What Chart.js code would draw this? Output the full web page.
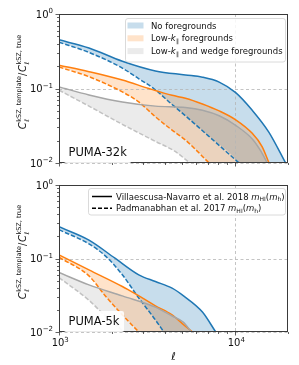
<!DOCTYPE html>
<html>
<head>
<meta charset="utf-8">
<script src="https://cdn.jsdelivr.net/npm/chart.js@4.4.1/dist/chart.umd.min.js"></script>
<style>
  html, body { margin: 0; padding: 0; background: #fff; }
  #wrap { position: relative; width: 299px; height: 365px; }
  canvas { position: absolute; left: 0; }
</style>
</head>
<body>
<div id="wrap">
  <canvas id="top" width="299" height="175" style="top:0"></canvas>
  <canvas id="bottom" width="299" height="190" style="top:175px"></canvas>
</div>
<script>
// axis ranges and tick labels
const X_MIN = 1000, X_MAX = 20000, Y_MIN = 0.01, Y_MAX = 1;
const xTickLabels = [[1000, '3'], [10000, '4']];
const yTickLabels = [[1, '0'], [0.1, '\u22121'], [0.01, '\u22122']];

// PUMA-32k, [ell, C_template / C_true]
const blueSolid32 = [[1000, 0.45], [1480, 0.35], [2290, 0.232], [3530, 0.172], [5230, 0.152], [6530, 0.142], [8130, 0.122], [10090, 0.088], [12530, 0.051], [15560, 0.026], [19400, 0.01]];
const blueDashed32 = [[1000, 0.418], [1480, 0.305], [2290, 0.188], [2840, 0.135], [3450, 0.1], [4390, 0.061], [5230, 0.043], [7000, 0.0235], [10550, 0.01]];
const orangeSolid32 = [[1000, 0.206], [1480, 0.168], [2290, 0.13], [3240, 0.1], [4390, 0.081], [5230, 0.074], [6530, 0.062], [8130, 0.05], [10090, 0.038], [12530, 0.025], [14250, 0.0166], [15600, 0.01]];
const orangeDashed32 = [[1000, 0.194], [1480, 0.144], [2290, 0.09], [2840, 0.066], [3530, 0.0417], [4390, 0.0276], [5230, 0.0203], [7130, 0.01]];
const graySolid32 = [[1000, 0.105], [1480, 0.082], [2290, 0.066], [3530, 0.058], [5230, 0.0555], [6530, 0.051], [8130, 0.043], [10090, 0.032], [12530, 0.021], [14000, 0.0145], [15250, 0.01]];
const grayDashed32 = [[1000, 0.095], [1480, 0.058], [2290, 0.033], [3530, 0.0195], [4520, 0.0145], [5550, 0.01]];

// PUMA-5k
const blueSolid5 = [[1000, 0.27], [1480, 0.178], [2080, 0.101], [2840, 0.06], [3530, 0.0486], [4390, 0.0395], [5100, 0.031], [6530, 0.0187], [7770, 0.01]];
const blueDashed5 = [[1000, 0.246], [1480, 0.158], [1845, 0.107], [2290, 0.06], [2840, 0.029], [3530, 0.0146], [3940, 0.01]];
const orangeSolid5 = [[1000, 0.112], [1480, 0.07], [2290, 0.0416], [2720, 0.033], [3530, 0.0227], [4390, 0.0171], [5100, 0.0126], [5740, 0.01]];
const orangeDashed5 = [[1000, 0.104], [1480, 0.058], [1845, 0.0304], [2290, 0.0171], [2840, 0.01]];
const graySolid5 = [[1000, 0.0645], [1480, 0.0438], [2290, 0.031], [3530, 0.0218], [4390, 0.0165], [5100, 0.0135], [5650, 0.01]];
const grayDashed5 = [[1000, 0.055], [1480, 0.027], [1845, 0.0162], [2345, 0.01]];

const FONT = '"DejaVu Sans", "Liberation Sans", sans-serif';
const font = (px, style) => (style ? style + ' ' : '') + px + 'px ' + FONT;

const BLUE = '#1f77b4', ORANGE = '#ff7f0e', GRAY_SOLID = '#a6a6a6', GRAY_DASH = '#c2c2c2';
const BLUE_FILL = 'rgba(31,119,180,0.25)';
const ORANGE_FILL = 'rgba(255,127,14,0.22)';
const GRAY_FILL = 'rgba(128,128,128,0.16)';
const AXIS = '#3a3a3a', TEXT = '#111';

const pts = arr => arr.map(([x, y]) => ({ x, y }));
// fill boundary: the dashed curve, then closed below the axis floor up to the end of the solid curve
const closeBelow = (dashed, solid) => pts(dashed).concat([{ x: solid[solid.length - 1][0], y: Y_MIN / 10 }]);

function panelDatasets(blueS, blueD, orangeS, orangeD, grayS, grayD) {
  const line = (data, color, dash, order, fill) => ({
    data: pts(data), borderColor: color, borderWidth: 1.5, borderDash: dash ? [4.5, 2] : [],
    pointRadius: 0, cubicInterpolationMode: 'monotone', order: order, fill: fill || false
  });
  const helper = (dashed, solid, order) => ({
    data: closeBelow(dashed, solid), borderColor: 'rgba(0,0,0,0)', borderWidth: 0,
    pointRadius: 0, cubicInterpolationMode: 'monotone', order: order, fill: false
  });
  const between = (target, c) => ({ target: target, above: c, below: c });
  return [
    line(blueS, BLUE, false, 3, between(1, BLUE_FILL)),
    helper(blueD, blueS, 3),
    line(orangeS, ORANGE, false, 2, between(3, ORANGE_FILL)),
    helper(orangeD, orangeS, 2),
    line(grayS, GRAY_SOLID, false, 1, between(5, GRAY_FILL)),
    helper(grayD, grayS, 1),
    line(blueD, BLUE, true, 3),
    line(orangeD, ORANGE, true, 2),
    line(grayD, GRAY_DASH, true, 1)
  ];
}

function logTicks(min, max) {
  const out = [];
  for (let e = Math.floor(Math.log10(min)); e <= Math.ceil(Math.log10(max)); e++) {
    for (let m = 1; m < 10; m++) {
      const v = m * Math.pow(10, e);
      if (v >= min * 0.999 && v <= max * 1.001) out.push({ v: v, major: m === 1 });
    }
  }
  return out;
}

// rich text: parts are {t, font, dy} or {stack: [...]}
function partWidth(ctx, p) {
  if (p.stack) return Math.max(...p.stack.map(q => partWidth(ctx, q)));
  ctx.font = p.font;
  return ctx.measureText(p.t).width + (p.gap || 0);
}
function richWidth(ctx, parts) {
  return parts.reduce((w, p) => w + partWidth(ctx, p), 0);
}
function drawRich(ctx, parts, x, y) {
  for (const p of parts) {
    if (p.stack) p.stack.forEach(q => drawRich(ctx, [q], x, y));
    else { ctx.font = p.font; ctx.fillText(p.t, x, y + (p.dy || 0)); }
    x += partWidth(ctx, p);
  }
}

function yLabelParts() {
  const big = font(10, 'italic'), sm = font(6.5);
  return [
    { t: 'C', font: big, gap: 0.5 },
    { stack: [{ t: 'kSZ, template', font: sm, dy: -4.8 }, { t: '\u2113', font: sm, dy: 2.5 }], gap: 1 },
    { t: '/', font: font(10), gap: 0.5 },
    { t: 'C', font: big, gap: 0.5 },
    { stack: [{ t: 'kSZ, true', font: sm, dy: -4.8 }, { t: '\u2113', font: sm, dy: 2.5 }] }
  ];
}

function roundBox(ctx, x, y, w, h, r, fill, stroke) {
  ctx.beginPath();
  ctx.roundRect(x, y, w, h, r);
  ctx.fillStyle = fill;
  ctx.fill();
  if (stroke) { ctx.strokeStyle = stroke; ctx.lineWidth = 0.8; ctx.stroke(); }
}

function axesPlugin(cfg) {
  return {
    id: 'axes' + cfg.name,
    beforeDatasetsDraw(chart) {
      const { ctx, chartArea: a, scales: { x, y } } = chart;
      ctx.save();
      ctx.strokeStyle = '#b5b5b5';
      ctx.lineWidth = 0.8;
      ctx.setLineDash([3, 2.5]);
      logTicks(X_MIN, X_MAX).filter(t => t.major).forEach(t => {
        const px = Math.round(x.getPixelForValue(t.v)) + 0.5;
        ctx.beginPath(); ctx.moveTo(px, a.top); ctx.lineTo(px, a.bottom); ctx.stroke();
      });
      logTicks(Y_MIN, Y_MAX).filter(t => t.major).forEach(t => {
        const py = Math.round(y.getPixelForValue(t.v)) + 0.5;
        ctx.beginPath(); ctx.moveTo(a.left, py); ctx.lineTo(a.right, py); ctx.stroke();
      });
      ctx.restore();
    },
    afterDatasetsDraw(chart) {
      const { ctx, chartArea: a, scales: { x, y } } = chart;
      ctx.save();
      // frame
      ctx.strokeStyle = AXIS;
      ctx.lineWidth = 1;
      ctx.strokeRect(a.left + 0.5, a.top + 0.5, a.right - a.left - 1, a.bottom - a.top - 1);
      // ticks
      ctx.lineWidth = 0.8;
      logTicks(X_MIN, X_MAX).forEach(t => {
        const px = Math.round(x.getPixelForValue(t.v)) + 0.5;
        ctx.beginPath(); ctx.moveTo(px, a.bottom); ctx.lineTo(px, a.bottom + (t.major ? 3.5 : 2)); ctx.stroke();
      });
      logTicks(Y_MIN, Y_MAX).forEach(t => {
        const py = Math.round(y.getPixelForValue(t.v)) + 0.5;
        ctx.beginPath(); ctx.moveTo(a.left, py); ctx.lineTo(a.left - (t.major ? 3.5 : 2), py); ctx.stroke();
      });
      // y tick labels
      ctx.fillStyle = TEXT;
      ctx.textBaseline = 'alphabetic';
      yTickLabels.forEach(([v, e]) => {
        const py = y.getPixelForValue(v);
        const parts = [{ t: '10', font: font(10) }, { t: e, font: font(7), dy: -4.5 }];
        drawRich(ctx, parts, a.left - 6 - richWidth(ctx, parts), py + 3.6);
      });
      // x tick labels and axis label (bottom panel only)
      if (cfg.xLabels) {
        xTickLabels.forEach(([v, e]) => {
          const px = x.getPixelForValue(v);
          const parts = [{ t: '10', font: font(10) }, { t: e, font: font(7), dy: -4.5 }];
          drawRich(ctx, parts, px - richWidth(ctx, [parts[0]]) / 2 - 1, a.bottom + 14);
        });
        ctx.font = font(11, 'italic');
        ctx.textAlign = 'center';
        ctx.fillText('\u2113', (a.left + a.right) / 2, a.bottom + 28);
        ctx.textAlign = 'left';
      }
      // y axis label, rotated
      ctx.save();
      ctx.translate(cfg.yLabelX, cfg.yLabelY);
      ctx.rotate(-Math.PI / 2);
      const lp = yLabelParts();
      drawRich(ctx, lp, -richWidth(ctx, lp) / 2, 0);
      ctx.restore();
      // panel name in a white box
      ctx.font = font(11.5);
      const tw = ctx.measureText(cfg.name).width;
      roundBox(ctx, a.left + 5, a.bottom - 21, tw + 9, 21, 2, 'rgba(255,255,255,0.9)');
      ctx.fillStyle = TEXT;
      ctx.font = font(11.5);
      ctx.fillText(cfg.name, a.left + 9.5, a.bottom - 7);
      // legend
      cfg.legend(ctx, a);
      ctx.restore();
    }
  };
}

function fgLegend(ctx, a) {
  roundBox(ctx, 125.5, a.top + 4.5, 160, 43.5, 2.5, 'rgba(255,255,255,0.85)', '#d0d0d0');
  const rows = [
    [BLUE_FILL, [{ t: 'No foregrounds', font: font(8.5) }]],
    [ORANGE_FILL, [{ t: 'Low-', font: font(8.5) }, { t: 'k', font: font(8.5, 'italic'), gap: 0.3 }, { t: '\u2225', font: font(6), dy: 1.8 }, { t: ' foregrounds', font: font(8.5) }]],
    [GRAY_FILL, [{ t: 'Low-', font: font(8.5) }, { t: 'k', font: font(8.5, 'italic'), gap: 0.3 }, { t: '\u2225', font: font(6), dy: 1.8 }, { t: ' and wedge foregrounds', font: font(8.5) }]]
  ];
  rows.forEach(([c, parts], i) => {
    const cy = a.top + 11.5 + i * 12.8;
    ctx.fillStyle = c;
    ctx.fillRect(127.5, cy - 3, 16, 6);
    ctx.fillStyle = TEXT;
    drawRich(ctx, parts, 151, cy + 3);
  });
}

function modelLegend(ctx, a) {
  roundBox(ctx, 88.5, a.top + 3.5, 197, 26.5, 2.5, 'rgba(255,255,255,0.85)', '#d0d0d0');
  const mh = [{ t: 'm', font: font(8.5, 'italic') }, { t: 'HI', font: font(6), dy: 1.8 }, { t: '(', font: font(8.5) },
              { t: 'm', font: font(8.5, 'italic') }, { t: 'h', font: font(6), dy: 1.8 }, { t: ')', font: font(8.5) }];
  const rows = [
    [[], [{ t: 'Villaescusa-Navarro et al. 2018 ', font: font(8.5) }].concat(mh)],
    [[4, 2], [{ t: 'Padmanabhan et al. 2017 ', font: font(8.5) }].concat(mh)]
  ];
  rows.forEach(([dash, parts], i) => {
    const cy = a.top + 11.5 + i * 11.8;
    ctx.strokeStyle = '#000';
    ctx.lineWidth = 1.5;
    ctx.setLineDash(dash);
    ctx.beginPath(); ctx.moveTo(92, cy); ctx.lineTo(112, cy); ctx.stroke();
    ctx.setLineDash([]);
    ctx.fillStyle = TEXT;
    drawRich(ctx, parts, 116, cy + 3);
  });
}

function makeChart(id, datasets, padding, cfg) {
  return new Chart(document.getElementById(id), {
    type: 'line',
    data: { datasets: datasets },
    options: {
      responsive: false,
      animation: false,
      events: [],
      layout: { padding: padding },
      scales: {
        x: { type: 'logarithmic', min: X_MIN, max: X_MAX, display: false },
        y: { type: 'logarithmic', min: Y_MIN, max: Y_MAX, display: false }
      },
      plugins: {
        legend: { display: false },
        tooltip: { enabled: false },
        filler: { drawTime: 'beforeDatasetsDraw' }
      }
    },
    plugins: [axesPlugin(cfg)]
  });
}

makeChart('top', panelDatasets(blueSolid32, blueDashed32, orangeSolid32, orangeDashed32, graySolid32, grayDashed32),
  { left: 59, right: 11, top: 14, bottom: 12 },
  { name: 'PUMA-32k', xLabels: false, yLabelX: 26, yLabelY: 82, legend: fgLegend });

makeChart('bottom', panelDatasets(blueSolid5, blueDashed5, orangeSolid5, orangeDashed5, graySolid5, grayDashed5),
  { left: 59, right: 11, top: 10, bottom: 33 },
  { name: 'PUMA-5k', xLabels: true, yLabelX: 26, yLabelY: 77, legend: modelLegend });
</script>
</body>
</html>
